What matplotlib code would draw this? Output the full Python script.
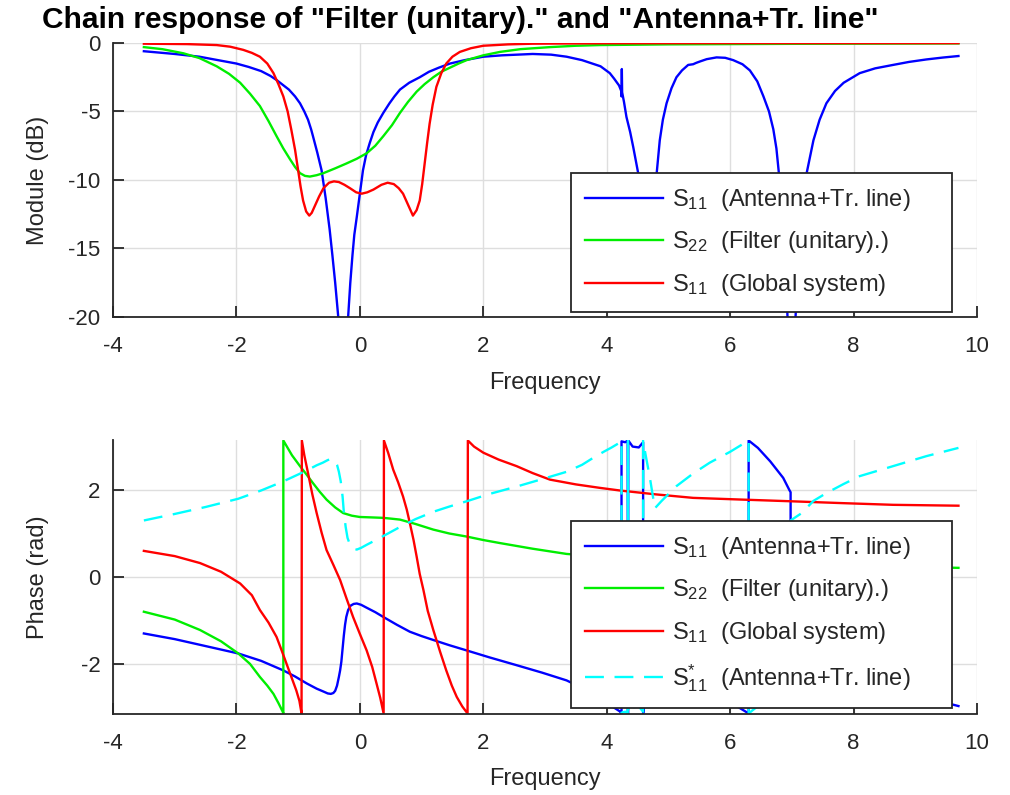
import numpy as np
import matplotlib
matplotlib.use("Agg")
import matplotlib.pyplot as plt

plt.rcParams['font.family'] = ['Liberation Sans', 'DejaVu Sans']
plt.rcParams['mathtext.fontset'] = 'custom'
plt.rcParams['mathtext.rm'] = 'Liberation Sans'
plt.rcParams['mathtext.it'] = 'Liberation Sans:italic'
plt.rcParams['axes.unicode_minus'] = False

#--------------------------------
# DATA
#--------------------------------
# Module (dB)
ant_mag_f = [-3.5, -3.0, -2.6, -2.3, -2.0, -1.8, -1.6, -1.45, -1.35, -1.25, -1.15, -1.05, -0.97,
             -0.90, -0.84, -0.79, -0.76, -0.69, -0.62, -0.555, -0.49, -0.445, -0.40, -0.35, -0.30,
             -0.27, -0.24, -0.19, -0.155, -0.12, -0.09, -0.05, 0.0, 0.05, 0.10, 0.16, 0.22, 0.29,
             0.38, 0.48, 0.56, 0.65, 0.80, 0.97, 1.12, 1.28, 1.46, 1.7, 2.0, 2.3, 2.8, 3.1, 3.35,
             3.6, 3.9, 4.05, 4.12, 4.2, 4.235, 4.24, 4.245, 4.25, 4.28, 4.32, 4.38, 4.43, 4.51,
             4.56, 4.61, 4.66, 4.71, 4.76, 4.81, 4.86, 4.91, 4.97, 5.05, 5.13, 5.22, 5.32, 5.40,
             5.45, 5.51, 5.62, 5.78, 5.92, 6.05, 6.2, 6.32, 6.44, 6.54, 6.63, 6.70, 6.75, 6.79,
             6.84, 6.88, 6.93, 7.0, 7.06, 7.12, 7.18, 7.24, 7.35, 7.45, 7.56, 7.70, 7.84, 8.10,
             8.35, 8.64, 8.9, 9.18, 9.45, 9.7]
ant_mag = [-0.6, -0.8, -1.0, -1.25, -1.5, -1.75, -2.05, -2.4, -2.7, -3.05, -3.4, -3.9, -4.4,
           -5.0, -5.6, -6.3, -6.8, -8.0, -9.3, -11.3, -13.6, -15.5, -17.5, -20.0, -25.0,
           -32.0, -26.0, -20.0, -17.5, -15.5, -14.0, -12.7, -11.0, -9.3, -8.2, -7.3, -6.5, -5.8,
           -5.1, -4.4, -3.9, -3.4, -2.9, -2.5, -2.1, -1.8, -1.5, -1.25, -1.0, -0.9, -0.8, -0.85, -1.0,
           -1.25, -1.7, -2.2, -2.6, -3.1, -3.5, -3.9, -1.9, -3.6, -4.3, -5.4, -6.5, -7.6, -9.5,
           -11.5, -14.5, -18.5, -15.0, -11.8, -9.5, -7.1, -5.6, -4.4, -3.3, -2.5, -2.0, -1.6, -1.55,
           -1.45, -1.35, -1.18, -1.05, -1.08, -1.25, -1.55, -2.0, -2.8, -3.9, -5.0, -6.3, -7.7, -9.5,
           -12.0, -15.0, -20.0, -30.0, -20.0, -14.5, -11.5, -9.5, -7.1, -5.6, -4.4, -3.5, -2.9, -2.2,
           -1.85, -1.6, -1.38, -1.2, -1.06, -0.95]

filt_mag_f = [-3.5, -3.2, -2.86, -2.6, -2.32, -2.12, -1.94, -1.78, -1.62, -1.48, -1.35, -1.24,
              -1.13, -1.05, -0.97, -0.89, -0.81, -0.70, -0.59, -0.40, -0.22, -0.05, 0.11, 0.25,
              0.38, 0.52, 0.65, 0.78, 0.92, 1.05, 1.19, 1.32, 1.46, 1.6, 1.73, 2.0, 2.27, 2.6,
              3.08, 3.5, 3.89, 5.0, 6.0, 7.0, 8.0, 9.0, 9.7]
filt_mag = [-0.3, -0.45, -0.75, -1.1, -1.7, -2.25, -2.9, -3.7, -4.6, -5.7, -6.8, -7.7,
            -8.5, -9.05, -9.5, -9.7, -9.75, -9.65, -9.5, -9.15, -8.8, -8.45, -8.05, -7.5,
            -6.8, -6.0, -5.1, -4.3, -3.55, -3.0, -2.5, -2.1, -1.8, -1.5, -1.25, -0.9, -0.65, -0.45,
            -0.3, -0.2, -0.15, -0.1, -0.08, -0.06, -0.05, -0.04, -0.03]

glob_mag_f = [-3.5, -2.8, -2.32, -2.1, -1.89, -1.75, -1.62, -1.50, -1.40, -1.32, -1.24, -1.17,
              -1.11, -1.05, -1.0, -0.96, -0.92, -0.87, -0.82, -0.78, -0.73, -0.66, -0.59, -0.50,
              -0.42, -0.34, -0.25, -0.16, -0.06, 0.03, 0.12, 0.22, 0.35, 0.45, 0.55, 0.63, 0.70,
              0.78, 0.86, 0.92, 0.97, 1.01, 1.05, 1.09, 1.13, 1.18, 1.24, 1.32, 1.40, 1.50, 1.62,
              1.8, 2.0, 2.4, 2.8, 4.0, 6.0, 8.0, 9.7]
glob_mag = [-0.05, -0.08, -0.15, -0.27, -0.5, -0.72, -1.0, -1.5, -2.2, -3.0, -3.9, -5.0,
            -6.35, -7.8, -9.3, -10.5, -11.5, -12.3, -12.6, -12.4, -11.9, -11.2, -10.6, -10.2,
            -10.1, -10.15, -10.35, -10.6, -10.9, -11.0, -10.9, -10.7, -10.35, -10.2, -10.3, -10.6, -11.0,
            -11.8, -12.6, -12.2, -11.5, -10.3, -8.8, -7.3, -5.9, -4.5, -3.2, -2.2, -1.5, -1.0, -0.65,
            -0.38, -0.2, -0.1, -0.05, -0.02, -0.01, -0.01, -0.01]

# Phase (rad), repeated frequencies are the +/-pi wraps
ant_ph_f = [-3.5, -3.0, -2.5, -1.97, -1.6, -1.24, -1.05, -0.86, -0.70, -0.60, -0.52, -0.47,
            -0.43, -0.40, -0.37, -0.34, -0.32, -0.30, -0.28, -0.26, -0.24, -0.22, -0.19, -0.15,
            -0.10, -0.05, 0.02, 0.10, 0.25, 0.38, 0.6, 0.81, 1.0, 1.19, 1.45, 1.73, 2.1, 2.54,
            2.95, 3.35, 3.6, 3.78, 3.95, 4.08, 4.21, 4.24, 4.24, 4.30, 4.34, 4.345, 4.35, 4.42,
            4.52, 4.59, 4.59, 4.62, 4.70, 4.78, 4.89, 5.13, 5.40, 5.67, 6.0, 6.30, 6.30, 6.45,
            6.65, 6.86, 6.96, 6.98, 6.98, 7.16, 7.35, 7.56, 7.84, 8.10, 8.64, 9.18, 9.70]
ant_ph = [-1.30, -1.43, -1.59, -1.76, -1.93, -2.15, -2.29, -2.45, -2.57, -2.63, -2.68, -2.69,
          -2.67, -2.62, -2.50, -2.30, -2.15, -1.95, -1.65, -1.35, -1.10, -0.92, -0.76, -0.66,
          -0.62, -0.61, -0.64, -0.70, -0.81, -0.92, -1.10, -1.26, -1.36, -1.45, -1.57, -1.69, -1.85, -2.03,
          -2.20, -2.38, -2.55, -2.72, -2.87, -2.97, -3.09, -3.14, 3.12, 3.10, 3.14, -3.14, 3.14, 3.00,
          2.98, 3.10, -3.14, -2.89, -2.28, -1.58, -1.75, -2.09, -2.38, -2.63, -2.88, -3.14, 3.14, 2.97,
          2.66, 2.28, 2.00, 1.95, -1.30, -1.47, -1.75, -1.93, -2.14, -2.32, -2.55, -2.78, -2.97]

filt_ph_f = [-3.5, -3.0, -2.59, -2.25, -1.97, -1.78, -1.62, -1.50, -1.40, -1.32, -1.25, -1.24,
             -1.24, -1.17, -1.10, -0.97, -0.86, -0.76, -0.65, -0.54, -0.40, -0.27, -0.13, 0.0,
             0.2, 0.38, 0.52, 0.65, 0.9, 1.19, 1.45, 1.73, 2.0, 2.27, 2.8, 3.35, 4.0, 5.0, 6.0,
             7.0, 8.0, 9.0, 9.7]
filt_ph = [-0.80, -0.98, -1.22, -1.48, -1.76, -2.00, -2.30, -2.50, -2.69, -2.90, -3.10, -3.14,
           3.14, 2.97, 2.80, 2.55, 2.35, 2.16, 1.96, 1.78, 1.60, 1.47, 1.41, 1.38,
           1.37, 1.36, 1.34, 1.32, 1.22, 1.09, 1.00, 0.93, 0.85, 0.78, 0.65, 0.53, 0.46, 0.40, 0.35,
           0.30, 0.26, 0.23, 0.21]

glob_ph_f = [-3.5, -3.0, -2.59, -2.25, -1.94, -1.75, -1.62, -1.48, -1.35, -1.27, -1.19, -1.11,
             -1.03, -0.98, -0.945, -0.94, -0.90, -0.84, -0.77, -0.70, -0.62, -0.54, -0.43, -0.32,
             -0.22, -0.11, 0.0, 0.11, 0.20, 0.27, 0.33, 0.385, 0.39, 0.46, 0.54, 0.62, 0.70, 0.76,
             0.81, 0.87, 0.92, 0.97, 1.03, 1.10, 1.19, 1.30, 1.40, 1.49, 1.57, 1.66, 1.745, 1.75,
             1.85, 2.0, 2.25, 2.54, 2.8, 3.08, 3.5, 3.89, 4.21, 4.8, 5.40, 6.2, 7.02, 7.8, 8.64, 9.70]
glob_ph = [0.60, 0.48, 0.32, 0.12, -0.15, -0.42, -0.76, -1.05, -1.38, -1.68, -1.99, -2.30,
           -2.61, -2.85, -3.14, 3.14, 2.80, 2.39, 1.90, 1.47, 1.02, 0.62, 0.28, -0.07,
           -0.48, -0.92, -1.31, -1.69, -2.07, -2.45, -2.78, -3.14, 3.14, 2.85, 2.47, 2.18, 1.85, 1.55,
           1.24, 0.85, 0.47, 0.07, -0.30, -0.78, -1.22, -1.72, -2.15, -2.50, -2.76, -2.98, -3.14, 3.14,
           3.00, 2.86, 2.70, 2.55, 2.39, 2.24, 2.13, 2.05, 1.99, 1.90, 1.82, 1.78, 1.74, 1.70, 1.66, 1.64]

conj_ph_f = [-3.5, -3.0, -2.5, -1.97, -1.6, -1.24, -0.86, -0.70, -0.60, -0.52, -0.47, -0.43,
             -0.40, -0.37, -0.34, -0.31, -0.28, -0.26, -0.23, -0.20, -0.16, -0.10, -0.05, 0.02,
             0.11, 0.3, 0.65, 0.9, 1.19, 1.45, 1.75, 2.1, 2.54, 2.95, 3.35, 3.6, 3.78, 3.95, 4.08,
             4.21, 4.24, 4.24, 4.30, 4.34, 4.345, 4.35, 4.42, 4.52, 4.59, 4.59, 4.62, 4.70, 4.78,
             4.89, 5.13, 5.40, 5.67, 6.0, 6.30, 6.30, 6.45, 6.65, 6.86, 6.96, 6.98, 6.98, 7.16,
             7.35, 7.56, 7.84, 8.10, 8.64, 9.18, 9.70]
conj_ph = [1.30, 1.45, 1.61, 1.80, 1.99, 2.20, 2.45, 2.57, 2.63, 2.69, 2.71, 2.70,
           2.66, 2.58, 2.42, 2.20, 1.85, 1.50, 1.15, 0.90, 0.74, 0.65, 0.63, 0.67,
           0.74, 0.88, 1.15, 1.33, 1.50, 1.62, 1.75, 1.91, 2.08, 2.25, 2.42, 2.58, 2.74, 2.88, 2.98,
           3.09, 3.14, -3.12, -3.10, -3.14, 3.14, -3.14, -3.00, -2.98, -3.10, 3.14, 2.89, 2.28, 1.58,
           1.75, 2.09, 2.38, 2.63, 2.88, 3.14, -3.14, -2.97, -2.66, -2.28, -2.00, -1.95, 1.30, 1.47,
           1.75, 1.93, 2.14, 2.32, 2.55, 2.78, 2.97]

pad = '     '
labels = [r'$\mathregular{S_{11}}$  (Antenna+Tr. line)' + pad,
          r'$\mathregular{S_{22}}$  (Filter (unitary).)' + pad,
          r'$\mathregular{S_{11}}$  (Global system)' + pad,
          r'$\mathregular{S^{*}_{11}}$  (Antenna+Tr. line)' + pad]

#--------------------------------
# FIGURE
#--------------------------------
dark = '#262626'
fig = plt.figure(figsize=(10.1, 7.95), dpi=100)
ax1 = fig.add_axes([0.1119, 0.6013, 0.8554, 0.3446])
ax2 = fig.add_axes([0.1119, 0.1025, 0.8554, 0.3435])

lw = 1.7
ax1.plot(ant_mag_f, ant_mag, color='#0000ff', lw=lw, label=labels[0])
ax1.plot(filt_mag_f, filt_mag, color='#00ee00', lw=lw, label=labels[1])
ax1.plot(glob_mag_f, glob_mag, color='#ff0000', lw=lw, label=labels[2])

ax2.plot(ant_ph_f, ant_ph, color='#0000ff', lw=lw, label=labels[0])
ax2.plot(filt_ph_f, filt_ph, color='#00ee00', lw=lw, label=labels[1])
ax2.plot(glob_ph_f, glob_ph, color='#ff0000', lw=lw, label=labels[2])
ax2.plot(conj_ph_f, conj_ph, color='#00ffff', lw=lw, dashes=(8, 4.5), label=labels[3])

ax1.set_ylim(-20, 0)
ax1.set_yticks([-20, -15, -10, -5, 0])
ax2.set_ylim(-np.pi, np.pi)
ax2.set_yticks([-2, 0, 2])

for ax in (ax1, ax2):
    ax.set_xlim(-4, 10)
    ax.set_xticks(range(-4, 11, 2))
    ax.grid(True, color='#dedede', lw=1.0)
    ax.set_axisbelow(True)
    for s in ('top', 'right'):
        ax.spines[s].set_visible(False)
    for s in ('left', 'bottom'):
        ax.spines[s].set_color(dark)
        ax.spines[s].set_linewidth(1.3)
    ax.tick_params(direction='in', length=8, width=1.3, color=dark,
                   labelcolor=dark, labelsize=16)
    ax.tick_params(axis='x', pad=14)
    ax.tick_params(axis='y', pad=9)
    ax.set_xlabel('Frequency', fontsize=17, color=dark)
    ax.xaxis.set_label_coords(0.5, -0.24)
    ax.xaxis.label.set_va('center')

ax1.set_ylabel('Module (dB)', fontsize=17, color=dark)
ax2.set_ylabel('Phase (rad)', fontsize=17, color=dark)
for ax in (ax1, ax2):
    ax.yaxis.set_label_coords(-0.087, 0.5)
    ax.yaxis.label.set_va('center')

leg_kw = dict(loc='lower right', borderaxespad=0, fontsize=17, handlelength=3.3,
              handletextpad=0.35, labelspacing=0.7, borderpad=0.6, fancybox=False,
              framealpha=1, edgecolor=dark)
l1 = ax1.legend(bbox_to_anchor=(0.971, 0.018), **leg_kw)
l2 = ax2.legend(bbox_to_anchor=(0.971, 0.019), **leg_kw)
for lg in (l1, l2):
    lg.get_frame().set_linewidth(1.3)
    for t in lg.get_texts():
        t.set_color(dark)

fig.text(42 / 1010, 1 - 28 / 795, 'Chain response of "Filter (unitary)." and "Antenna+Tr. line"',
         fontsize=21.5, fontweight='bold', va='baseline', ha='left')

fig.savefig('out.png', dpi=100)
